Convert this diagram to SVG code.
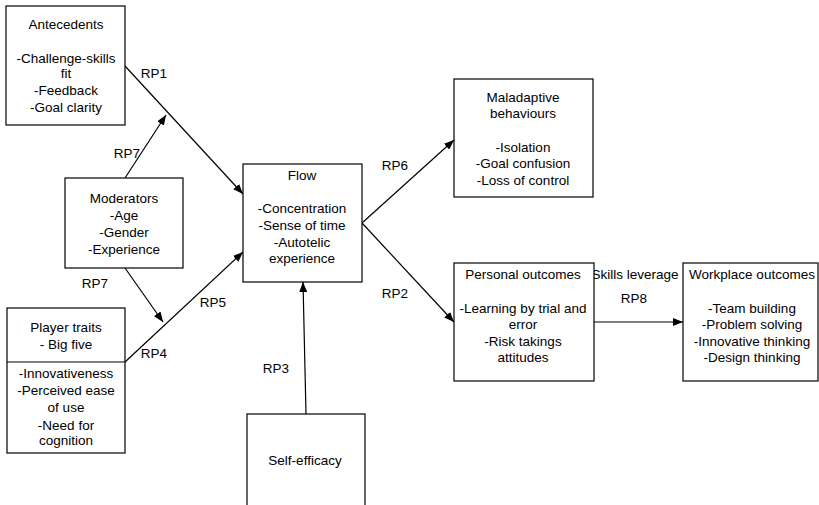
<svg xmlns="http://www.w3.org/2000/svg" width="819" height="505" viewBox="0 0 819 505">
<defs>
<marker id="arr" viewBox="0 0 10 8" refX="10" refY="4" markerWidth="10" markerHeight="8" markerUnits="userSpaceOnUse" orient="auto">
<path d="M0,0 L10,4 L0,8 Z" fill="#000"/>
</marker>
</defs>
<style>
.box{fill:#fff;stroke:#000;stroke-width:1.2}
text{font-family:"Liberation Sans",Arial,sans-serif;font-size:13.5px;fill:#000;text-anchor:middle}
.c{fill:none;stroke:#000;stroke-width:1.2;marker-end:url(#arr)}
</style>
<rect width="819" height="505" fill="#fff"/>
<g id="connectors">
<line class="c" x1="125" y1="66" x2="243" y2="194"/>
<line class="c" x1="125" y1="178" x2="166" y2="115"/>
<line class="c" x1="125" y1="268" x2="163" y2="322"/>
<line class="c" x1="125" y1="362" x2="243" y2="252"/>
<line class="c" x1="306" y1="414" x2="303" y2="282"/>
<line class="c" x1="362" y1="223" x2="454" y2="140"/>
<line class="c" x1="362" y1="223" x2="454" y2="322"/>
<line class="c" x1="594" y1="322" x2="683" y2="322"/>
<text x="154" y="78">RP1</text>
<text x="127" y="158">RP7</text>
<text x="95" y="288">RP7</text>
<text x="213" y="307">RP5</text>
<text x="154" y="358">RP4</text>
<text x="276" y="373">RP3</text>
<text x="395" y="170">RP6</text>
<text x="395" y="298">RP2</text>
<text x="635" y="279">Skills leverage</text>
<text x="634" y="303">RP8</text>
</g>
<g id="antecedents">
<rect class="box" x="6" y="6" width="119" height="119"/>
<text x="66" y="29">Antecedents</text>
<text x="66" y="63">-Challenge-skills</text>
<text x="66" y="78">fit</text>
<text x="66" y="95">-Feedback</text>
<text x="66" y="112">-Goal clarity</text>
</g>
<g id="moderators">
<rect class="box" x="65" y="178" width="118" height="90"/>
<text x="124" y="203">Moderators</text>
<text x="124" y="220">-Age</text>
<text x="124" y="237">-Gender</text>
<text x="124" y="254">-Experience</text>
</g>
<g id="player-traits">
<rect class="box" x="7" y="308" width="118" height="145"/>
<line x1="7" y1="362" x2="125" y2="362" stroke="#000" stroke-width="1.2"/>
<text x="66" y="332">Player traits</text>
<text x="66" y="349">- Big five</text>
<text x="66" y="378">-Innovativeness</text>
<text x="66" y="395">-Perceived ease</text>
<text x="66" y="412">of use</text>
<text x="66" y="430">-Need for</text>
<text x="66" y="445">cognition</text>
</g>
<g id="flow">
<rect class="box" x="243" y="164" width="119" height="118"/>
<text x="302" y="180">Flow</text>
<text x="302" y="213">-Concentration</text>
<text x="302" y="230">-Sense of time</text>
<text x="302" y="247">-Autotelic</text>
<text x="302" y="263">experience</text>
</g>
<g id="self-efficacy">
<rect class="box" x="247" y="414" width="118" height="100"/>
<text x="305" y="465">Self-efficacy</text>
</g>
<g id="maladaptive">
<rect class="box" x="454" y="79" width="139" height="118"/>
<text x="523" y="102">Maladaptive</text>
<text x="523" y="118">behaviours</text>
<text x="523" y="152">-Isolation</text>
<text x="523" y="168">-Goal confusion</text>
<text x="523" y="185">-Loss of control</text>
</g>
<g id="personal-outcomes">
<rect class="box" x="454" y="263" width="140" height="118"/>
<text x="523" y="279">Personal outcomes</text>
<text x="523" y="313">-Learning by trial and</text>
<text x="523" y="329">error</text>
<text x="523" y="346">-Risk takings</text>
<text x="523" y="362">attitudes</text>
</g>
<g id="workplace-outcomes">
<rect class="box" x="683" y="263" width="135" height="118"/>
<text x="752" y="279">Workplace outcomes</text>
<text x="752" y="313">-Team building</text>
<text x="752" y="329">-Problem solving</text>
<text x="752" y="346">-Innovative thinking</text>
<text x="752" y="362">-Design thinking</text>
</g>
</svg>
